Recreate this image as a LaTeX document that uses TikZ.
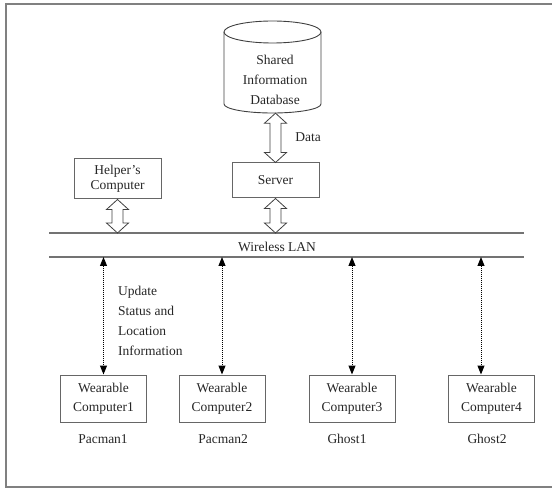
\documentclass[tikz,border=0pt]{standalone}
\usepackage{fontspec}
\setmainfont{Liberation Serif}
\usetikzlibrary{arrows.meta,calc}
\newcommand\hollowarrow[2]{%
  \draw[harrow] let \p1=(#1), \p2=(#2) in
    (\x1,\y1) -- (\x1-11pt,\y1-10pt) -- (\x1-5.5pt,\y1-10pt) -- (\x1-5.5pt,\y2+10pt)
    -- (\x1-11pt,\y2+10pt) -- (\x1,\y2) -- (\x1+11pt,\y2+10pt) -- (\x1+5.5pt,\y2+10pt)
    -- (\x1+5.5pt,\y1-10pt) -- (\x1+11pt,\y1-10pt) -- cycle;}
\begin{document}
\begin{tikzpicture}[x=1pt,y=-1pt,
  every node/.style={font=\rmfamily\fontsize{13.5}{20}\selectfont, inner sep=0pt, text=black!85},
  box/.style={draw=black!60, line width=1pt, align=center},
  wbox/.style={box, minimum width=86, minimum height=47, font=\rmfamily\fontsize{13.5}{19}\selectfont},
  harrow/.style={draw=black!75, line width=0.8pt, fill=white, line join=miter},
  dotarrow/.style={draw=black, line width=1pt, dash pattern=on 1pt off 1pt,
     {Triangle[length=9pt,width=7pt]}-{Triangle[length=9pt,width=7pt]}},
  lanline/.style={draw=black!55, line width=1.1pt},
  frame/.style={draw=black!50, line width=1.8pt},
  cyl/.style={draw=black!75, line width=0.9pt}]
\useasboundingbox (0,0) rectangle (552,489);
\draw[frame] (6,4) rectangle (560,487);

% database cylinder
\node (db) [minimum width=97, minimum height=92] at (272.5,67) {};
\draw[cyl] (224,32) -- (224,104) arc[start angle=180, end angle=360, x radius=48.5pt, y radius=9pt] -- (321,32);
\draw[cyl] (272.5,32) ellipse[x radius=48.5pt, y radius=11pt];
\node (dbtext) [align=center] at (275,80) {Shared\\Information\\Database};

% server and helper
\node (server) [box, minimum width=87, minimum height=35] at (275.5,180.5) {Server};
\node (helper) [box, minimum width=87, minimum height=40, font=\rmfamily\fontsize{13.5}{15.5}\selectfont] at (117.5,179) {Helper's\\Computer};

% wireless LAN
\coordinate (lanTL) at (49,233);
\coordinate (lanTR) at (524,233);
\coordinate (lanBL) at (49,257);
\coordinate (lanBR) at (524,257);
\draw[lanline] (lanTL) -- (lanTR);
\draw[lanline] (lanBL) -- (lanBR);
\node (lan) at (277,247) {Wireless LAN};

% hollow arrows
\hollowarrow{server.north |- db.south}{server.north}
\node (data) at (308,137) {Data};
\hollowarrow{helper.south}{helper.south |- lanTL}
\hollowarrow{server.south}{server.south |- lanTL}

% wearable computers
\node (w1) [wbox] at (103.5,398.5) {Wearable\\Computer1};
\node (w2) [wbox] at (222,398.5) {Wearable\\Computer2};
\node (w3) [wbox] at (352,398.5) {Wearable\\Computer3};
\node (w4) [wbox] at (491.5,398.5) {Wearable\\Computer4};

\node (p1) at (103,439) {Pacman1};
\node (p2) at (223,439) {Pacman2};
\node (g1) at (347,439) {Ghost1};
\node (g2) at (487,439) {Ghost2};

% dotted connectors
\coordinate (a4) at ($(w4.north)+(-10.5,0)$);
\draw[dotarrow] (w1.north |- lanBL) -- (w1.north);
\draw[dotarrow] (w2.north |- lanBL) -- (w2.north);
\draw[dotarrow] (w3.north |- lanBL) -- (w3.north);
\draw[dotarrow] (a4 |- lanBL) -- (a4);

\node (upd) [anchor=west, align=left] at (118,321) {Update\\Status and\\Location\\Information};
\end{tikzpicture}
\end{document}
